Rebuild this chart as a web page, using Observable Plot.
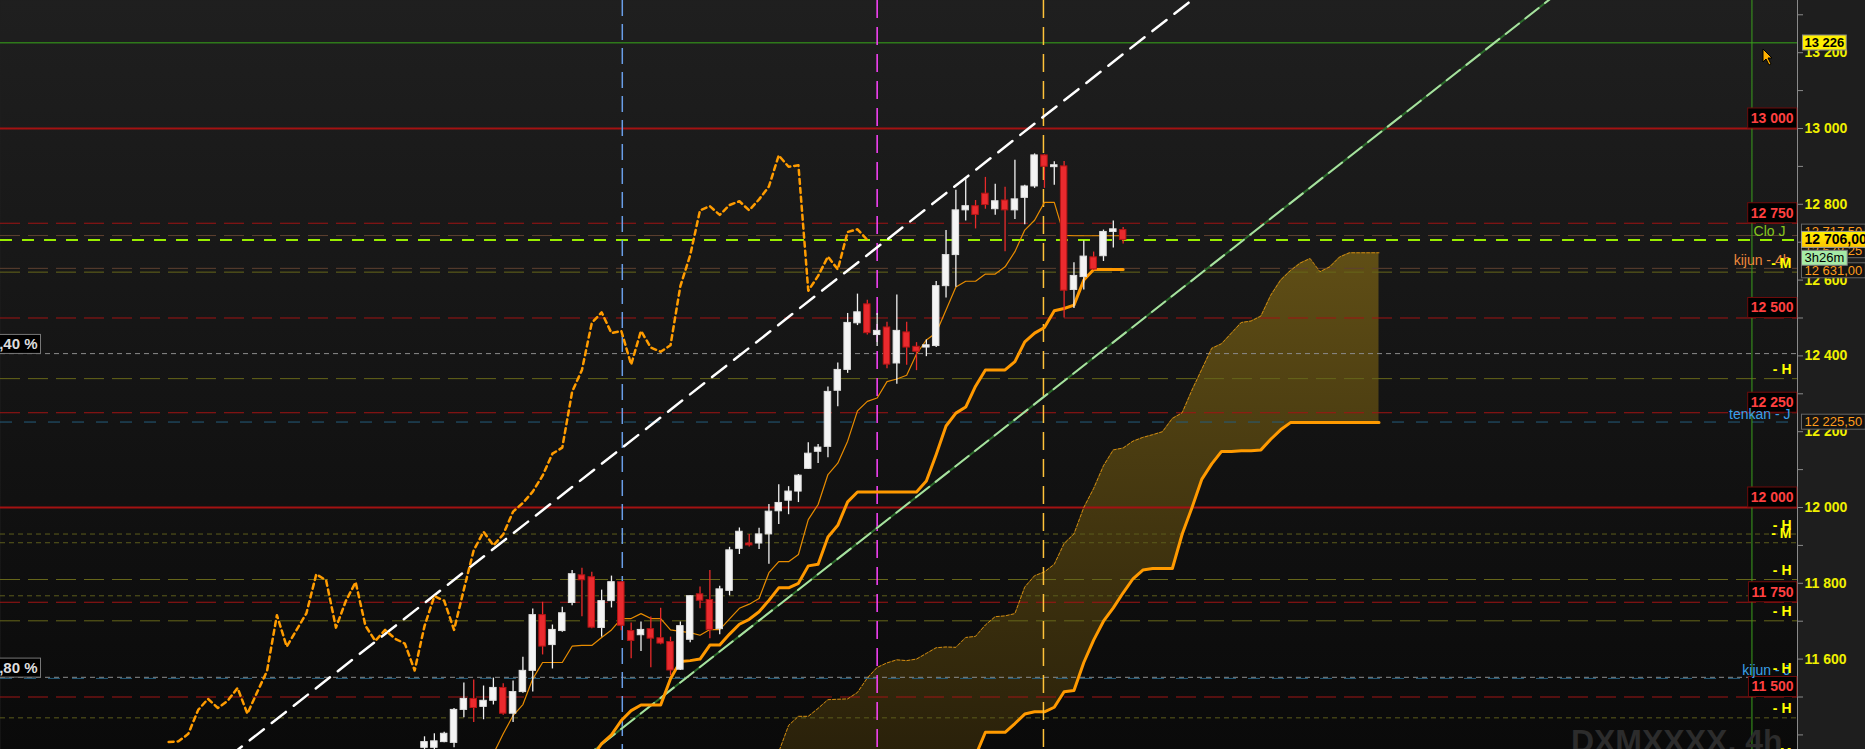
<!DOCTYPE html>
<html><head><meta charset="utf-8">
<script src="https://cdn.jsdelivr.net/npm/d3@7"></script>
<script src="https://cdn.jsdelivr.net/npm/@observablehq/plot@0.6"></script>
<style>
html,body{margin:0;padding:0;background:#1e1e1e;overflow:hidden;}
#chart{position:relative;width:1865px;height:749px;}
#chart svg{display:block;}
#chart text{font-family:"Liberation Sans",Arial,sans-serif;}
</style></head><body><div id="chart"></div>
<script>
// ---------- candle data (4h bars, index 0..71) ----------
const opens  = [11366,11366,11381,11379,11466,11495,11474,11490,11524,11456,11513,11569,11716,11637,11674,11748,11821,11816,11682,11753,11803,11674,11663,11679,11655,11645,11572,11651,11771,11756,11679,11780,11891,11905,11905,11929,11990,12018,12042,12102,12147,12160,12308,12363,12486,12536,12455,12475,12380,12462,12424,12422,12426,12584,12666,12784,12795,12828,12787,12810,12784,12817,12847,12929,12898,12900,12574,12608,12660,12663,12727,12732];
const highs  = [11395,11403,11407,11470,11537,11545,11529,11550,11535,11542,11605,11732,11750,11690,11737,11834,11840,11829,11782,11819,11805,11695,11698,11711,11734,11658,11698,11768,11790,11834,11792,11895,11946,11929,11945,12008,12060,12055,12087,12171,12166,12318,12381,12512,12563,12547,12512,12489,12561,12489,12435,12442,12596,12731,12837,12866,12810,12871,12853,12845,12916,12850,12933,12931,12912,12913,12646,12703,12674,12732,12756,12739];
const lows   = [11360,11360,11379,11366,11445,11433,11440,11479,11452,11433,11510,11513,11611,11574,11671,11741,11712,11680,11658,11735,11675,11601,11620,11577,11638,11556,11570,11643,11733,11654,11664,11767,11876,11896,11889,11850,11955,11981,12013,12100,12116,12131,12266,12354,12480,12455,12425,12366,12325,12375,12361,12398,12422,12553,12581,12756,12735,12787,12771,12675,12760,12746,12842,12842,12850,12500,12525,12574,12625,12649,12685,12695];
const closes = [11381,11383,11403,11466,11495,11471,11490,11524,11456,11513,11569,11716,11633,11677,11721,11824,11808,11683,11753,11803,11688,11648,11677,11654,11641,11570,11687,11766,11754,11677,11784,11887,11936,11900,11929,11989,12012,12042,12084,12142,12158,12305,12363,12487,12515,12460,12466,12377,12466,12422,12411,12428,12584,12666,12784,12795,12772,12798,12808,12784,12813,12847,12929,12899,12903,12572,12611,12662,12628,12727,12734,12706];

// ---------- Ichimoku lines ----------
const tenkan = [null,null,null,null,null,null,null,11350,11403,11451,11480,11548,11591,11591,11591,11634,11636,11636,11657,11677,11707,11707,11720,11707,11707,11677,11673,11670,11663,11678,11678,11706,11734,11745,11760,11828,11857,11857,11876,11968,12008,12087,12117,12175,12255,12280,12289,12332,12339,12349,12405,12442,12461,12521,12582,12597,12597,12616,12616,12635,12675,12732,12758,12805,12805,12718,12717,12717,12717,12717,12717,12717];
const kijun  = [null,null,null,null,null,null,null,null,null,null,null,null,null,null,null,null,null,11340,11377,11400,11438,11464,11479,11479,11479,11548,11594,11596,11600,11637,11637,11666,11692,11705,11725,11755,11788,11788,11800,11846,11850,11922,11953,12015,12041,12041,12041,12041,12041,12041,12041,12070,12140,12215,12249,12265,12320,12363,12363,12363,12385,12437,12460,12475,12519,12525,12534,12600,12628,12628,12628,12628];
const cloudStart = 35;
const senkouA = [11300,11355,11425,11449,11449,11470,11493,11494,11495,11512,11550,11578,11590,11598,11596,11600,11615,11630,11632,11631,11657,11660,11690,11712,11714,11720,11790,11820,11830,11850,11905,11930,12000,12050,12110,12152,12157,12175,12185,12192,12200,12235,12250,12310,12365,12420,12432,12460,12488,12492,12505,12560,12600,12625,12645,12657,12622,12635,12661,12672,12672,12672,12672];
const senkouB = [11300,11300,11300,11300,11300,11300,11300,11300,11300,11300,11300,11300,11300,11300,11300,11300,11300,11300,11300,11300,11300,11345,11407,11407,11407,11430,11455,11461,11461,11473,11514,11517,11591,11650,11700,11735,11775,11812,11835,11839,11839,11839,11930,12000,12075,12115,12148,12148,12150,12150,12152,12180,12205,12224,12224,12224,12224,12224,12224,12224,12224,12224,12224];
const chikouShift = 26;

// ---------- trend lines (anchor points: bar index, price) ----------
const whiteTrend = [{i:-20, v:11340},{i:80, v:13380}];
const greenTrend = [{i:0, v:11008},{i:120, v:13456}];

// ---------- vertical markers (bar index) ----------
const vBlue = [20.1], vMagenta = [46], vYellow = [62.9], vGreen = [134.9];

// ---------- horizontal levels ----------
const lvHigh = [13226];
const lvRedSolid = [13000, 12000];
const lvRedDash = [12750, 12500, 12250, 11750, 11500];
const lvBrownDash = [12717.5, 12631];
const lvClose = [12706];
const lvOliveDash = [12621, 12340, 11810, 11701];
const lvOliveDot = [11930, 11907, 11767, 11445];
const lvGrayDash = [12406, 11552];
const lvBlueDash = [12225.5, 11549];

// ---------- texts ----------
const redLabels = [13000, 12750, 12500, 12250, 12000, 11750, 11500];
const hmLabels = [{v:12621,t:"- M"},{v:12340,t:"- H"},{v:11930,t:"- H"},{v:11907,t:"- M"},{v:11810,t:"- H"},{v:11701,t:"- H"},{v:11552,t:"- H"},{v:11445,t:"- H"},{v:11328,t:"M"}];
const pctLabels = [{v:12406,t:"5,40 %"},{v:11552,t:"1,80 %"}];
const tagYellow = [{v:13226,t:"13 226"}];
const tagDark = [{v:12727,t:"12 717,50"},{v:12678,t:"12 678,25"},{v:12625,t:"12 631,00"},{v:12225.5,t:"12 225,50"}];
const tagTimer = [{v:12658,t:"3h26m"}];
const tagClose = [{v:12706,t:"12 706,00"}];
const indLabels = [{v:12631,t:"kijun - 4h",c:"#f08a3c"},{v:12225.5,t:"tenkan - J",c:"#3aa0e8"},{v:11549,t:"kijun - J",c:"#3aa0e8"}];
const cloLabel = [{v:12706,t:"Clo J"}];
const yTicks = d3.range(11400, 13301, 100);
const yLabeled = d3.range(11600, 13201, 200);
const watermark = ["DXMXXXX, 4h"];

// ---------- build ----------
const fmt = v => d3.format(",")(v).replace(/,/g, " ");
const candles = closes.map((c, i) => ({i, o: opens[i], h: highs[i], l: lows[i], c}));
const series = (arr, start) => arr.map((v, k) => ({i: start + k, v})).filter(d => d.v != null);
const cloud = senkouA.map((a, k) => ({i: cloudStart + k, a, b: senkouB[k]}));
const up = d => d.c >= d.o;
const xDomain = [-43.09, 139.53];

const chart = Plot.plot({
  width: 1865, height: 749,
  marginLeft: 0, marginRight: 68, marginTop: 0, marginBottom: 0,
  style: {background: "#1e1e1e", color: "#ccc"},
  x: {domain: xDomain, axis: null},
  y: {domain: [11361.5, 13337.7], axis: null},
  color: {type: "identity"},
  marks: [
    Plot.frame({fill: "url(#bgGrad)", stroke: "none"}),
    Plot.areaY(cloud, {x: "i", y1: "b", y2: "a", fill: "url(#cloudGrad)", clip: true}),
    Plot.ruleY(lvHigh, {stroke: "#38a81a", strokeWidth: 1}),
    Plot.ruleY(lvRedSolid, {stroke: "#a31212", strokeWidth: 2}),
    Plot.ruleY(lvRedDash, {stroke: "#a01414", strokeDasharray: "20,8"}),
    Plot.ruleY(lvBrownDash, {stroke: "#5e4030", strokeDasharray: "20,8"}),
    Plot.ruleY(lvOliveDash, {stroke: "#66661a", strokeDasharray: "20,8"}),
    Plot.ruleY(lvOliveDot, {stroke: "#5c5c1c", strokeDasharray: "5,4"}),
    Plot.ruleY(lvGrayDash, {stroke: "#8c8c8c", strokeDasharray: "5,4"}),
    Plot.ruleY(lvBlueDash, {stroke: "#245c7c", strokeDasharray: "12,12"}),
    Plot.ruleY(lvClose, {stroke: "#99ee00", strokeWidth: 2, strokeDasharray: "12,10"}),
    Plot.line(series(senkouA, cloudStart), {x: "i", y: "v", stroke: "#d08a10", strokeWidth: 1, strokeDasharray: "3,2", clip: true}),
    Plot.line(series(senkouB, cloudStart), {x: "i", y: "v", stroke: "#ff9a00", strokeWidth: 3, strokeLinejoin: "round", clip: true}),
    Plot.ruleX(vBlue, {stroke: "#6a9ee8", strokeWidth: 1.5, strokeDasharray: "16,8"}),
    Plot.ruleX(vMagenta, {stroke: "#ff44ff", strokeWidth: 1.5, strokeDasharray: "18,9"}),
    Plot.ruleX(vYellow, {stroke: "#ffc23a", strokeWidth: 1.5, strokeDasharray: "18,9"}),
    Plot.ruleX(vGreen, {stroke: "#3ca01e", strokeWidth: 1}),
    Plot.line(greenTrend, {x: "i", y: "v", stroke: "#2d6b2d", strokeWidth: 2, clip: true}),
    Plot.line(greenTrend, {x: "i", y: "v", stroke: "#a8e0a0", strokeWidth: 2, strokeDasharray: "17,8", clip: true}),
    Plot.line(whiteTrend, {x: "i", y: "v", stroke: "#ffffff", strokeWidth: 2.5, strokeDasharray: "18,10", clip: true}),
    Plot.line(candles, {x: d => d.i - chikouShift, y: "c", stroke: "#ff9c00", strokeWidth: 2.5, strokeDasharray: "5,4", clip: true}),
    Plot.line(series(tenkan, 0), {x: "i", y: "v", stroke: "#e88c00", strokeWidth: 1.2, clip: true}),
    Plot.line(series(kijun, 0), {x: "i", y: "v", stroke: "#ff9900", strokeWidth: 3, strokeLinejoin: "round", clip: true}),
    Plot.ruleX(candles, {x: "i", y1: "l", y2: "h", stroke: d => up(d) ? "#f2f2f2" : "#e82a2a", strokeWidth: 1.3, clip: true}),
    Plot.rect(candles, {x1: d => d.i - 0.33, x2: d => d.i + 0.33, y1: "o", y2: "c",
      fill: d => up(d) ? "#f4f4f4" : "#ea2a2e", stroke: d => up(d) ? "#e0e0e0" : "#b51515", strokeWidth: 1, clip: true}),
    // right axis
    Plot.ruleX([xDomain[1]], {stroke: "#8a8a8a", strokeWidth: 1}),
    Plot.axisY({anchor: "right", ticks: yTicks, tickSize: 5, tickPadding: 2,
      tickFormat: d => yLabeled.includes(d) ? fmt(d) : "", fontSize: 14, fontWeight: "bold", stroke: "#8a8a8a", fill: "#f0f000",
      ariaDescription: "yaxis"}),
    // level labels
    Plot.text(redLabels, {y: d => d, text: fmt, frameAnchor: "right", textAnchor: "end", dx: -4, dy: -10,
      fill: "#ff4040", fontSize: 14, fontWeight: "bold", ariaDescription: "box-red"}),
    Plot.text(indLabels, {y: "v", text: "t", frameAnchor: "right", textAnchor: "end", dx: -7, dy: -8, fill: "c", fontSize: 14}),
    Plot.text(cloLabel, {y: "v", text: "t", frameAnchor: "right", textAnchor: "end", dx: -12, dy: -8, fill: "#86c81e", fontSize: 14}),
    Plot.text(hmLabels, {y: "v", text: "t", frameAnchor: "right", textAnchor: "end", dx: -6, dy: -9, fill: "#ffff00", fontSize: 14, fontWeight: "bold"}),
    Plot.text(pctLabels, {y: "v", text: "t", frameAnchor: "left", textAnchor: "end", dx: 37, dy: -9,
      fill: "#dddddd", fontSize: 15, fontWeight: "bold", fontFamily: "Liberation Serif, serif", ariaDescription: "box-pct"}),
    // right-side price tags
    Plot.text(tagYellow, {y: "v", text: "t", frameAnchor: "right", textAnchor: "start", dx: 7, fill: "#000", fontSize: 13, fontWeight: "bold", ariaDescription: "box-yellow"}),
    Plot.text(tagDark, {y: "v", text: "t", frameAnchor: "right", textAnchor: "start", dx: 7, fill: "#ff9c1c", fontSize: 13, ariaDescription: "box-dark"}),
    Plot.text(tagTimer, {y: "v", text: "t", frameAnchor: "right", textAnchor: "start", dx: 7, fill: "#000", fontSize: 13, ariaDescription: "box-green"}),
    Plot.text(tagClose, {y: "v", text: "t", frameAnchor: "right", textAnchor: "start", dx: 7, fill: "#000", fontSize: 14, fontWeight: "bold", ariaDescription: "box-close"}),
    Plot.text(watermark, {frameAnchor: "bottom-right", textAnchor: "end", lineAnchor: "middle", dx: -15, dy: -8,
      fill: "#2c2c2c", fontSize: 32, fontWeight: "bold"})
  ]
});

const host = document.getElementById("chart");
host.append(chart);

const defs = d3.select(chart).insert("defs", ":first-child");
const grad = (id, attrs, stops) => {
  const g = defs.append("linearGradient").attr("id", id);
  Object.entries(attrs).forEach(([k, v]) => g.attr(k, v));
  stops.forEach(([o, c]) => g.append("stop").attr("offset", o).attr("stop-color", c));
};
grad("bgGrad", {gradientUnits: "userSpaceOnUse", x1: 0, y1: 0, x2: 0, y2: 749}, [[0, "#1f1f1f"], [1, "#0a0a0a"]]);
grad("cloudGrad", {gradientUnits: "userSpaceOnUse", x1: 0, y1: 230, x2: 0, y2: 749}, [[0, "#625016"], [1, "#2a210a"]]);
grad("tagGrad", {x1: 0, y1: 0, x2: 0, y2: 1}, [[0, "#fff200"], [1, "#ffc400"]]);

// axis label styling
chart.querySelectorAll('g[aria-label="y-axis tick label"] text, g[aria-description="yaxis"] text').forEach(t => {
  t.setAttribute("fill", "#f0f000");
  t.style.fontWeight = "bold";
  t.style.fontSize = "14px";
});

function boxes(label, {fill, stroke, padX = 3, padY = 1}) {
  chart.querySelectorAll(`[aria-description="${label}"] text`).forEach(t => {
    const bb = t.getBBox();
    const r = document.createElementNS("http://www.w3.org/2000/svg", "rect");
    r.setAttribute("x", bb.x - padX);
    r.setAttribute("y", bb.y - padY);
    r.setAttribute("width", bb.width + 2 * padX);
    r.setAttribute("height", bb.height + 2 * padY);
    r.setAttribute("fill", fill);
    r.setAttribute("stroke", stroke);
    r.setAttribute("stroke-width", 1);
    const tr = t.getAttribute("transform");
    if (tr) r.setAttribute("transform", tr);
    t.parentNode.insertBefore(r, t);
  });
}
boxes("box-red", {fill: "#000", stroke: "#6e0c0c", padX: 3, padY: 2});
boxes("box-pct", {fill: "#000", stroke: "#777", padX: 3, padY: 1});
boxes("box-yellow", {fill: "#fff000", stroke: "#888", padX: 2, padY: 0});
boxes("box-dark", {fill: "#141414", stroke: "#666", padX: 3, padY: 0});
boxes("box-green", {fill: "#a6eba6", stroke: "#7a7a7a", padX: 3, padY: 0});
boxes("box-close", {fill: "url(#tagGrad)", stroke: "#999", padX: 3, padY: 0});

// mouse cursor
const cur = document.createElementNS("http://www.w3.org/2000/svg", "svg");
cur.setAttribute("width", 14); cur.setAttribute("height", 20);
cur.style.cssText = "position:absolute;left:1762px;top:48px;";
cur.innerHTML = '<path d="M1,1 L1,14 L4,11 L7,17 L9,16 L6,10 L10,10 Z" fill="#ffb000" stroke="#000" stroke-width="1"/>';
host.append(cur);
</script></body></html>
